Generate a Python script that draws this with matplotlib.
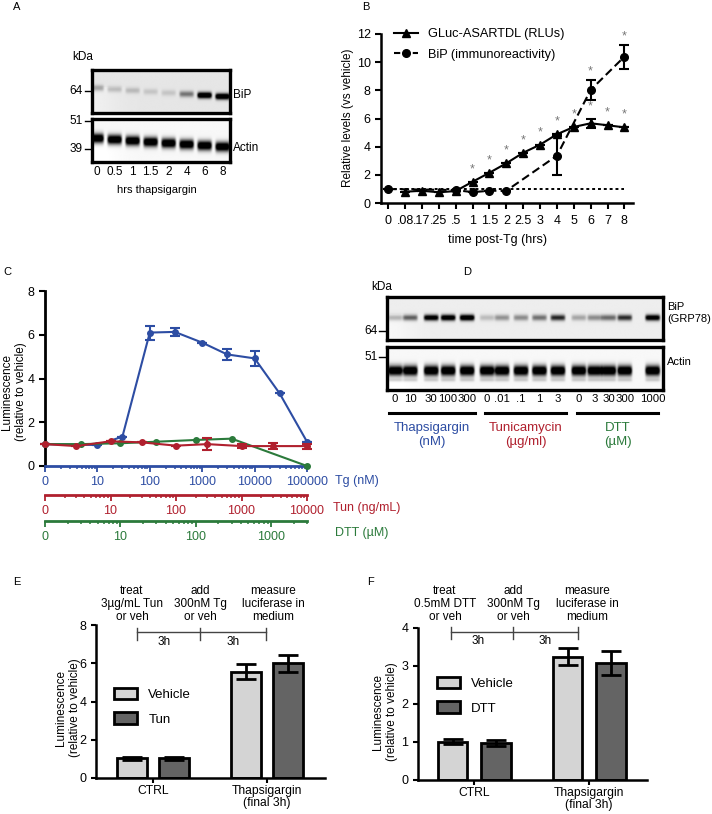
import numpy as np
import matplotlib
matplotlib.use('Agg')
import matplotlib.pyplot as plt
from matplotlib.ticker import LogLocator, FixedLocator, NullFormatter
from matplotlib.lines import Line2D
from matplotlib.patches import Patch

plt.rcParams['font.family'] = ['Liberation Sans', 'DejaVu Sans']
plt.rcParams['font.size'] = 8.5

# ---------------- data ----------------
# Panel A (western blot band intensities, 0..1)
a_lanes = ['0', '0.5', '1', '1.5', '2', '4', '6', '8']
a_bip = [0.22, 0.14, 0.14, 0.10, 0.10, 0.35, 1.0, 1.0]
a_actin = [1.0, 1.0, 1.0, 1.0, 1.0, 1.0, 1.0, 1.0]

# Panel B
b_times = ['0', '.08', '.17', '.25', '.5', '1', '1.5', '2', '2.5', '3', '4', '5', '6', '7', '8']
gluc_idx = [1, 2, 3, 4, 5, 6, 7, 8, 9, 10, 11, 12, 13, 14]
gluc = [0.80, 0.87, 0.76, 0.85, 1.51, 2.15, 2.82, 3.57, 4.14, 4.88, 5.40, 5.66, 5.52, 5.37]
gluc_err = [0, 0, 0, 0, 0, 0, 0, 0, 0, 0, 0, 0.30, 0, 0]
gluc_sig = [5, 6, 7, 8, 9, 10, 11, 12, 13, 14]
bip_idx = [0, 4, 5, 6, 7, 10, 12, 14]
bip = [0.99, 0.92, 0.77, 0.87, 0.87, 3.36, 8.03, 10.39]
bip_err = [0, 0, 0, 0, 0, 1.37, 0.70, 0.85]
bip_sig = [12, 14]
vehicle_level = 1.0

# Panel C
tg_conc = [0, 10, 30, 100, 300, 1000, 3000, 10000, 30000, 100000]
tg_lum = [1.00, 0.96, 1.34, 6.10, 6.13, 5.64, 5.10, 4.92, 3.32, 1.11]
tg_err = [0, 0, 0, 0.32, 0.17, 0, 0.25, 0.33, 0, 0]
tun_conc = [0, 3, 10, 30, 100, 300, 1000, 3000, 10000]
tun_lum = [1.00, 0.91, 1.13, 1.08, 0.93, 1.00, 0.91, 0.91, 0.91]
tun_err = [0, 0, 0, 0, 0, 0.26, 0.09, 0.12, 0.11]
dtt_conc = [0, 3, 10, 30, 100, 300, 3000]
dtt_lum = [1.00, 1.00, 1.04, 1.11, 1.19, 1.25, 0.0]
tg_ticks = [0, 10, 100, 1000, 10000, 100000]
tun_ticks = [0, 10, 100, 1000, 10000]
dtt_ticks = [0, 10, 100, 1000]

# Panel D (blot)
d_lanes = ['0', '10', '30', '100', '300', '0', '.01', '.1', '1', '3', '0', '3', '30', '300', '1000']
d_bip = [0.20, 0.45, 0.85, 0.90, 0.95, 0.15, 0.28, 0.30, 0.38, 0.62, 0.22, 0.30, 0.40, 0.60, 0.85]
d_actin = [1.0] * 15
d_groups = ['Thapsigargin\n(nM)', 'Tunicamycin\n(\u00b5g/ml)', 'DTT\n(\u00b5M)']

# Panels E, F
bar_cats = ['CTRL', 'Thapsigargin\n(final 3h)']
e_vehicle = [1.03, 5.56]
e_vehicle_err = [0.08, 0.38]
e_tun = [1.03, 6.00]
e_tun_err = [0.08, 0.45]
f_vehicle = [1.01, 3.25]
f_vehicle_err = [0.07, 0.23]
f_dtt = [0.98, 3.08]
f_dtt_err = [0.08, 0.32]

BLUE = '#2D4DA3'
RED = '#B0202E'
GREEN = '#2B7A3B'
LIGHT = '#D4D4D4'
DARK = '#646464'

W, H = 712, 814
fig = plt.figure(figsize=(W / 100, H / 100), dpi=100)


def R(x0, y0, x1, y1):
    return [x0 / W, 1 - y1 / H, (x1 - x0) / W, (y1 - y0) / H]


def T(x, y, s, **kw):
    kw.setdefault('ha', 'center')
    kw.setdefault('va', 'center')
    fig.text(x / W, 1 - y / H, s, **kw)


def L(xs, ys, **kw):
    fig.add_artist(Line2D([x / W for x in xs], [1 - y / H for y in ys], **kw))


def blot(rect, intens, lane_x, xlim, yc, sig, slope=0.0, bg=0.92, extra=0.0):
    ax = fig.add_axes(rect)
    xs = np.linspace(xlim[0], xlim[1], 400)
    ys = np.linspace(0, 1, 120)
    X, Y = np.meshgrid(xs, ys)
    img = np.full_like(X, bg)
    img += 0.04 * np.exp(-((X - xlim[0]) / 1.5) ** 2) * (Y > 0.4)
    for i, (v, cx) in enumerate(zip(intens, lane_x)):
        c = yc + slope * i
        px = np.exp(-((X - cx) / 0.40) ** 8)
        py = np.exp(-((Y - c) / sig) ** 2)
        img -= 1.3 * v * px * py
        if extra:
            img -= extra * v * px * np.exp(-((Y - c - 0.22) / 0.04) ** 2)
    img = np.clip(img, 0, 1)
    ax.imshow(img, cmap='gray', vmin=0, vmax=1, extent=(xlim[0], xlim[1], 1, 0),
              aspect='auto', interpolation='bilinear')
    ax.set_xlim(*xlim)
    ax.set_ylim(1, 0)
    ax.set_xticks([])
    ax.set_yticks([])
    for s in ax.spines.values():
        s.set_linewidth(2.4)
    return ax


# ---------------- Panel A ----------------
T(17, 7, 'A', fontsize=8)
a_xlim = (-0.25, 7.4)
a_lane_x = list(range(len(a_lanes)))
blot(R(92, 70, 230, 113), a_bip, a_lane_x, a_xlim, 0.42, 0.07, slope=0.028, bg=0.9)
axA2 = blot(R(92, 119, 230, 162), a_actin, a_lane_x, a_xlim, 0.45, 0.11, slope=0.028, bg=0.97)
axA2.set_xticks(a_lane_x)
axA2.set_xticklabels(a_lanes, fontsize=8.5)
axA2.tick_params(axis='x', length=0, pad=3)
T(83, 57, 'kDa', fontsize=8.5)
for y, lab in [(91, '64'), (121, '51'), (149, '39')]:
    T(76, y, lab, fontsize=8.5)
    L([85, 92], [y, y], color='k', lw=1.0)
T(233, 95, 'BiP', ha='left', fontsize=8.5)
T(233, 148, 'Actin', ha='left', fontsize=8.5)
T(157, 190, 'hrs thapsigargin', fontsize=8)

# ---------------- Panel B ----------------
T(366, 7, 'B', fontsize=8)
axB = fig.add_axes(R(381, 34, 633, 203))
axB.plot([0, len(b_times) - 1], [vehicle_level, vehicle_level], color='k', lw=1.4,
         ls=(0, (1.5, 1.5)), zorder=1)
axB.errorbar(gluc_idx, gluc, yerr=gluc_err, color='k', lw=1.5, marker='^', ms=6,
             capsize=3.5, elinewidth=1.5, capthick=1.5, zorder=3)
axB.errorbar(bip_idx, bip, yerr=bip_err, color='k', lw=1.5, ls=(0, (4, 2)), marker='o', ms=5.5,
             capsize=3.5, elinewidth=1.5, capthick=1.5, zorder=3)
for i in gluc_sig:
    k = gluc_idx.index(i)
    axB.text(i, gluc[k] + gluc_err[k] + 0.9, '*', ha='center', va='center', color='#777777', fontsize=9)
for i in bip_sig:
    k = bip_idx.index(i)
    axB.text(i, bip[k] + bip_err[k] + 0.6, '*', ha='center', va='center', color='#777777', fontsize=9)
axB.set_xlim(-0.43, 14.51)
axB.set_ylim(0, 12)
axB.set_xticks(range(len(b_times)))
axB.set_xticklabels(b_times, fontsize=9)
axB.set_yticks(range(0, 13, 2))
axB.tick_params(axis='both', length=4, width=1.5, labelsize=9)
axB.tick_params(axis='x', pad=5)
for s in ['top', 'right']:
    axB.spines[s].set_visible(False)
for s in ['left', 'bottom']:
    axB.spines[s].set_linewidth(1.8)
hB = [Line2D([], [], color='k', lw=1.5, marker='^', ms=6),
      Line2D([], [], color='k', lw=1.5, ls=(0, (3, 1.5)), marker='o', ms=5.5)]
fig.legend(hB, ['GLuc-ASARTDL (RLUs)', 'BiP (immunoreactivity)'], loc='upper left',
           bbox_to_anchor=(394 / W, 1 - 28 / H), frameon=False, fontsize=9.2,
           handlelength=1.9, handletextpad=0.8, labelspacing=0.7, borderpad=0, borderaxespad=0)
T(348, 118, 'Relative levels (vs vehicle)', rotation=90, fontsize=8.5)
T(498, 240, 'time post-Tg (hrs)', fontsize=9)


# ---------------- Panel C ----------------
def zpos(c):
    return [1 if v == 0 else v for v in c]


T(7, 272, 'C', fontsize=8)
rectC = R(45, 291, 307, 466)
axC = fig.add_axes(rectC)
axT = fig.add_axes(rectC, facecolor='none')
axD = fig.add_axes(rectC, facecolor='none')
axC.set_zorder(1)
axD.set_zorder(2)
axT.set_zorder(3)

setups = [(axC, tg_ticks, 1e5, BLUE, 0), (axT, tun_ticks, 1e4, RED, 20.9), (axD, dtt_ticks, 3000, GREEN, 39.6)]
for ax, ticks, xmax, col, off in setups:
    ax.set_xscale('log')
    ax.set_xlim(1, xmax)
    ax.set_ylim(0, 8)
    for s in ['top', 'right']:
        ax.spines[s].set_visible(False)
    ax.spines['bottom'].set_color(col)
    ax.spines['bottom'].set_linewidth(2)
    if off:
        ax.spines['bottom'].set_position(('outward', off))
        ax.spines['left'].set_visible(False)
        ax.yaxis.set_visible(False)
    ax.xaxis.set_major_locator(FixedLocator(zpos(ticks)))
    ax.set_xticklabels([str(t) for t in ticks])
    ax.xaxis.set_minor_locator(LogLocator(base=10, subs=np.arange(2, 10)))
    ax.xaxis.set_minor_formatter(NullFormatter())
    ax.tick_params(axis='x', which='major', colors=col, length=4.5, width=1.3, labelsize=9, pad=3)
    ax.tick_params(axis='x', which='minor', colors=col, length=2.5, width=1.1)

axC.errorbar(zpos(tg_conc), tg_lum, yerr=tg_err, color=BLUE, lw=1.5, marker='o', ms=4,
             capsize=3.5, elinewidth=1.5, capthick=1.5, clip_on=False, zorder=3)
axD.plot(zpos(dtt_conc), dtt_lum, color=GREEN, lw=1.5, marker='o', ms=4, clip_on=False)
axT.errorbar(zpos(tun_conc), tun_lum, yerr=tun_err, color=RED, lw=1.5, marker='o', ms=4,
             capsize=3.5, elinewidth=1.5, capthick=1.5, clip_on=False)
axC.set_yticks([0, 2, 4, 6, 8])
axC.spines['left'].set_linewidth(2)
axC.tick_params(axis='y', length=4, width=1.5, labelsize=9)
T(335, 481, 'Tg (nM)', ha='left', color=BLUE, fontsize=9)
T(333, 508, 'Tun (ng/mL)', ha='left', color=RED, fontsize=9)
T(335, 533, 'DTT (\u00b5M)', ha='left', color=GREEN, fontsize=9)
T(14, 392, 'Luminescence\n(relative to vehicle)', rotation=90, fontsize=8.5, linespacing=1.2)

# ---------------- Panel D ----------------
T(467, 272, 'D', fontsize=8)
d_label_px = [395, 410, 431, 448, 467, 487, 502, 521, 539.5, 558, 579, 595, 609, 625, 653]
d_x0, d_step = 395.0, 18.43
d_xlim = ((387 - d_x0) / d_step, (663 - d_x0) / d_step)
d_lane_x = [(p - d_x0) / d_step for p in d_label_px]
blot(R(387, 297, 663, 340), d_bip, d_lane_x, d_xlim, 0.48, 0.07, bg=0.93)
axD2 = blot(R(387, 347, 663, 390), d_actin, d_lane_x, d_xlim, 0.55, 0.12, bg=0.97, extra=0.15)
axD2.set_xticks(d_lane_x)
axD2.set_xticklabels(d_lanes, fontsize=8.2)
axD2.tick_params(axis='x', length=0, pad=3)
T(382, 287, 'kDa', fontsize=8.5)
for y, lab in [(331, '64'), (357, '51')]:
    T(371, y, lab, fontsize=8.5)
    L([379, 387], [y, y], color='k', lw=1.0)
T(667, 313, 'BiP\n(GRP78)', ha='left', fontsize=8, linespacing=1.15)
T(667, 362, 'Actin', ha='left', fontsize=8)
for (x0, x1), lab, col in zip([(389, 475), (485, 566), (577, 658)], d_groups, [BLUE, RED, GREEN]):
    L([x0, x1], [413, 413], color='k', lw=2.2)
    T((x0 + x1) / 2, 435, lab, color=col, fontsize=9.5, linespacing=1.2)


# ---------------- Panels E, F ----------------
def barpanel(rect, veh, veh_err, trt, trt_err, ymax, yticks, xlim, offs, width):
    ax = fig.add_axes(rect)
    x = np.arange(len(bar_cats))
    ax.bar(x - offs, veh, width, color=LIGHT, edgecolor='k', lw=2, zorder=2)
    ax.bar(x + offs, trt, width, color=DARK, edgecolor='k', lw=2, zorder=2)
    ax.errorbar(x - offs, veh, yerr=veh_err, fmt='none', ecolor='k', elinewidth=2, capsize=7, capthick=2, zorder=3)
    ax.errorbar(x + offs, trt, yerr=trt_err, fmt='none', ecolor='k', elinewidth=2, capsize=7, capthick=2, zorder=3)
    ax.set_xlim(*xlim)
    ax.set_ylim(0, ymax)
    ax.set_yticks(yticks)
    ax.set_xticks(x)
    ax.set_xticklabels(bar_cats, fontsize=8.7, linespacing=1.05)
    ax.tick_params(axis='both', length=3.5, width=1.5, labelsize=9)
    ax.tick_params(axis='x', pad=1.5, labelsize=8.7)
    for s in ['top', 'right']:
        ax.spines[s].set_visible(False)
    for s in ['left', 'bottom']:
        ax.spines[s].set_linewidth(1.8)
    return ax


T(17, 582, 'E', fontsize=8)
axE = barpanel(R(96, 625, 325, 778), e_vehicle, e_vehicle_err, e_tun, e_tun_err, 8,
               [0, 2, 4, 6, 8], (-0.50, 1.51), 0.187, 0.263)
fig.legend([Patch(facecolor=LIGHT, edgecolor='k', lw=2), Patch(facecolor=DARK, edgecolor='k', lw=2)],
           ['Vehicle', 'Tun'], loc='upper left', bbox_to_anchor=(114 / W, 1 - 688 / H), frameon=False,
           fontsize=9.5, handlelength=1.75, handleheight=0.95, handletextpad=0.85, labelspacing=0.85,
           borderpad=0, borderaxespad=0)
L([137, 266], [632, 632], color='#444444', lw=1.0)
for xx in [137, 200, 266]:
    L([xx, xx], [628, 640], color='#444444', lw=1.0)
T(164, 642, '3h', fontsize=8.5)
T(233, 642, '3h', fontsize=8.5)
T(132, 604, 'treat\n3\u00b5g/mL Tun\nor veh', fontsize=8.5, linespacing=1.1)
T(200, 604, 'add\n300nM Tg\nor veh', fontsize=8.5, linespacing=1.1)
T(273, 604, 'measure\nluciferase in\nmedium', fontsize=8.5, linespacing=1.1)
T(68, 708, 'Luminescence\n(relative to vehicle)', rotation=90, fontsize=8.5, linespacing=1.2)

T(370, 582, 'F', fontsize=8)
axF = barpanel(R(418, 628, 647, 780), f_vehicle, f_vehicle_err, f_dtt, f_dtt_err, 4,
               [0, 1, 2, 3, 4], (-0.488, 1.503), 0.188, 0.257)
fig.legend([Patch(facecolor=LIGHT, edgecolor='k', lw=2), Patch(facecolor=DARK, edgecolor='k', lw=2)],
           ['Vehicle', 'DTT'], loc='upper left', bbox_to_anchor=(437 / W, 1 - 677 / H), frameon=False,
           fontsize=9.5, handlelength=1.75, handleheight=0.95, handletextpad=0.85, labelspacing=0.85,
           borderpad=0, borderaxespad=0)
L([451, 578], [632, 632], color='#444444', lw=1.0)
for xx in [451, 513, 578]:
    L([xx, xx], [627, 639], color='#444444', lw=1.0)
T(478, 641, '3h', fontsize=8.5)
T(545, 641, '3h', fontsize=8.5)
T(445, 604, 'treat\n0.5mM DTT\nor veh', fontsize=8.5, linespacing=1.1)
T(513, 604, 'add\n300nM Tg\nor veh', fontsize=8.5, linespacing=1.1)
T(587, 604, 'measure\nluciferase in\nmedium', fontsize=8.5, linespacing=1.1)
T(385, 712, 'Luminescence\n(relative to vehicle)', rotation=90, fontsize=8.5, linespacing=1.2)

fig.savefig('out.png', dpi=100)
